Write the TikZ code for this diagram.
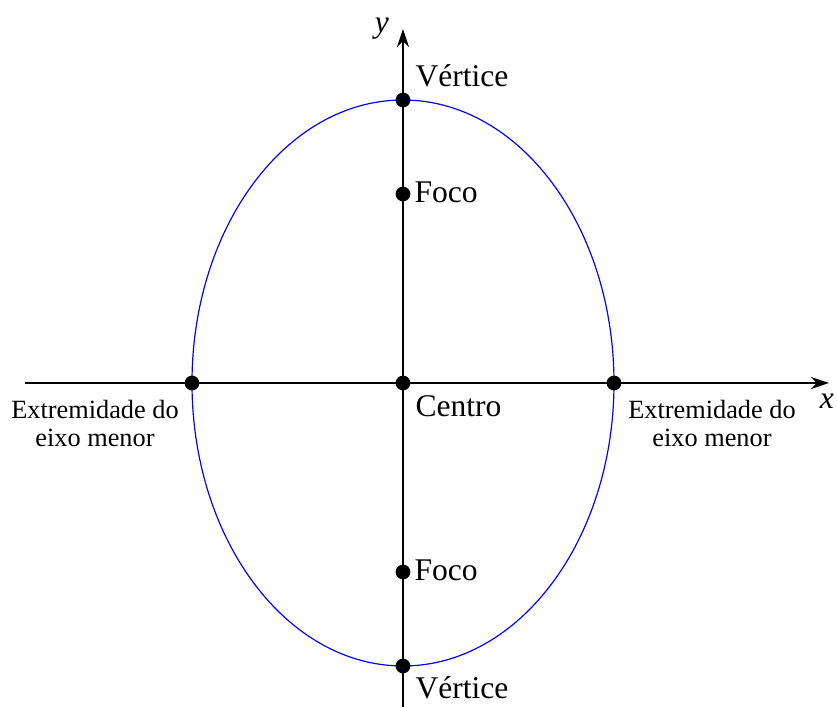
\documentclass[tikz,border=0pt]{standalone}
\usepackage{fontspec}
\setmainfont{Liberation Serif}
\usetikzlibrary{arrows.meta,positioning,calc}
\tikzset{
  axisln/.style={-{Stealth[length=2.4mm,width=1.6mm]}, line width=0.5pt, black},
  curveln/.style={line width=0.45pt, blue},
  ptdot/.style={circle, fill=black, inner sep=0pt, minimum size=5.6pt},
  lab/.style={inner sep=0pt, font=\fontsize{12}{14}\selectfont},
  smlab/.style={inner sep=0pt, align=center, font=\fontsize{10}{11}\selectfont},
}

\begin{document}
\begin{tikzpicture}[x=0.38pt, y=0.38pt]
    \useasboundingbox (-403,-324) rectangle (434,383);
    % axes
    \coordinate (xl) at (-378,0);
    \coordinate (xr) at (426,0);
    \coordinate (yb) at (0,-324);
    \coordinate (yt) at (0,354);
    \draw[axisln] (xl) -- (xr);
    \draw[axisln] (yb) -- (yt);
    \node[lab, anchor=base] (xlab) at (424,-26) {\textit{x}};
    \node[lab, anchor=base] (ylab) at (-21,350) {\textit{y}};
    % ellipse
    \draw[curveln] (0,0) ellipse [x radius=211, y radius=283];
    % points
    \node[ptdot] (vtop) at (0,283) {};
    \node[ptdot] (ftop) at (0,189) {};
    \node[ptdot] (cen) at (0,0) {};
    \node[ptdot] (fbot) at (0,-189) {};
    \node[ptdot] (vbot) at (0,-283) {};
    \node[ptdot] (eleft) at (-211,0) {};
    \node[ptdot] (eright) at (211,0) {};
    % labels
    \node[lab, anchor=base west] (vtoplab) at ([shift={(12,13)}]vtop.center) {Vértice};
    \node[lab, anchor=base west] (ftoplab) at ([shift={(11,-9)}]ftop.center) {Foco};
    \node[lab, anchor=base west] (cenlab) at ([shift={(12,-34)}]cen.center) {Centro};
    \node[lab, anchor=base west] (fbotlab) at ([shift={(11,-9)}]fbot.center) {Foco};
    \node[lab, anchor=base west] (vbotlab) at ([shift={(12,-33)}]vbot.center) {Vértice};
    \node[smlab, anchor=base] (eleftlab) at ([shift={(-97,-64)}]eleft.center) {Extremidade do\\eixo menor};
    \node[smlab, anchor=base] (erightlab) at ([shift={(98,-64)}]eright.center) {Extremidade do\\eixo menor};
\end{tikzpicture}
\end{document}
